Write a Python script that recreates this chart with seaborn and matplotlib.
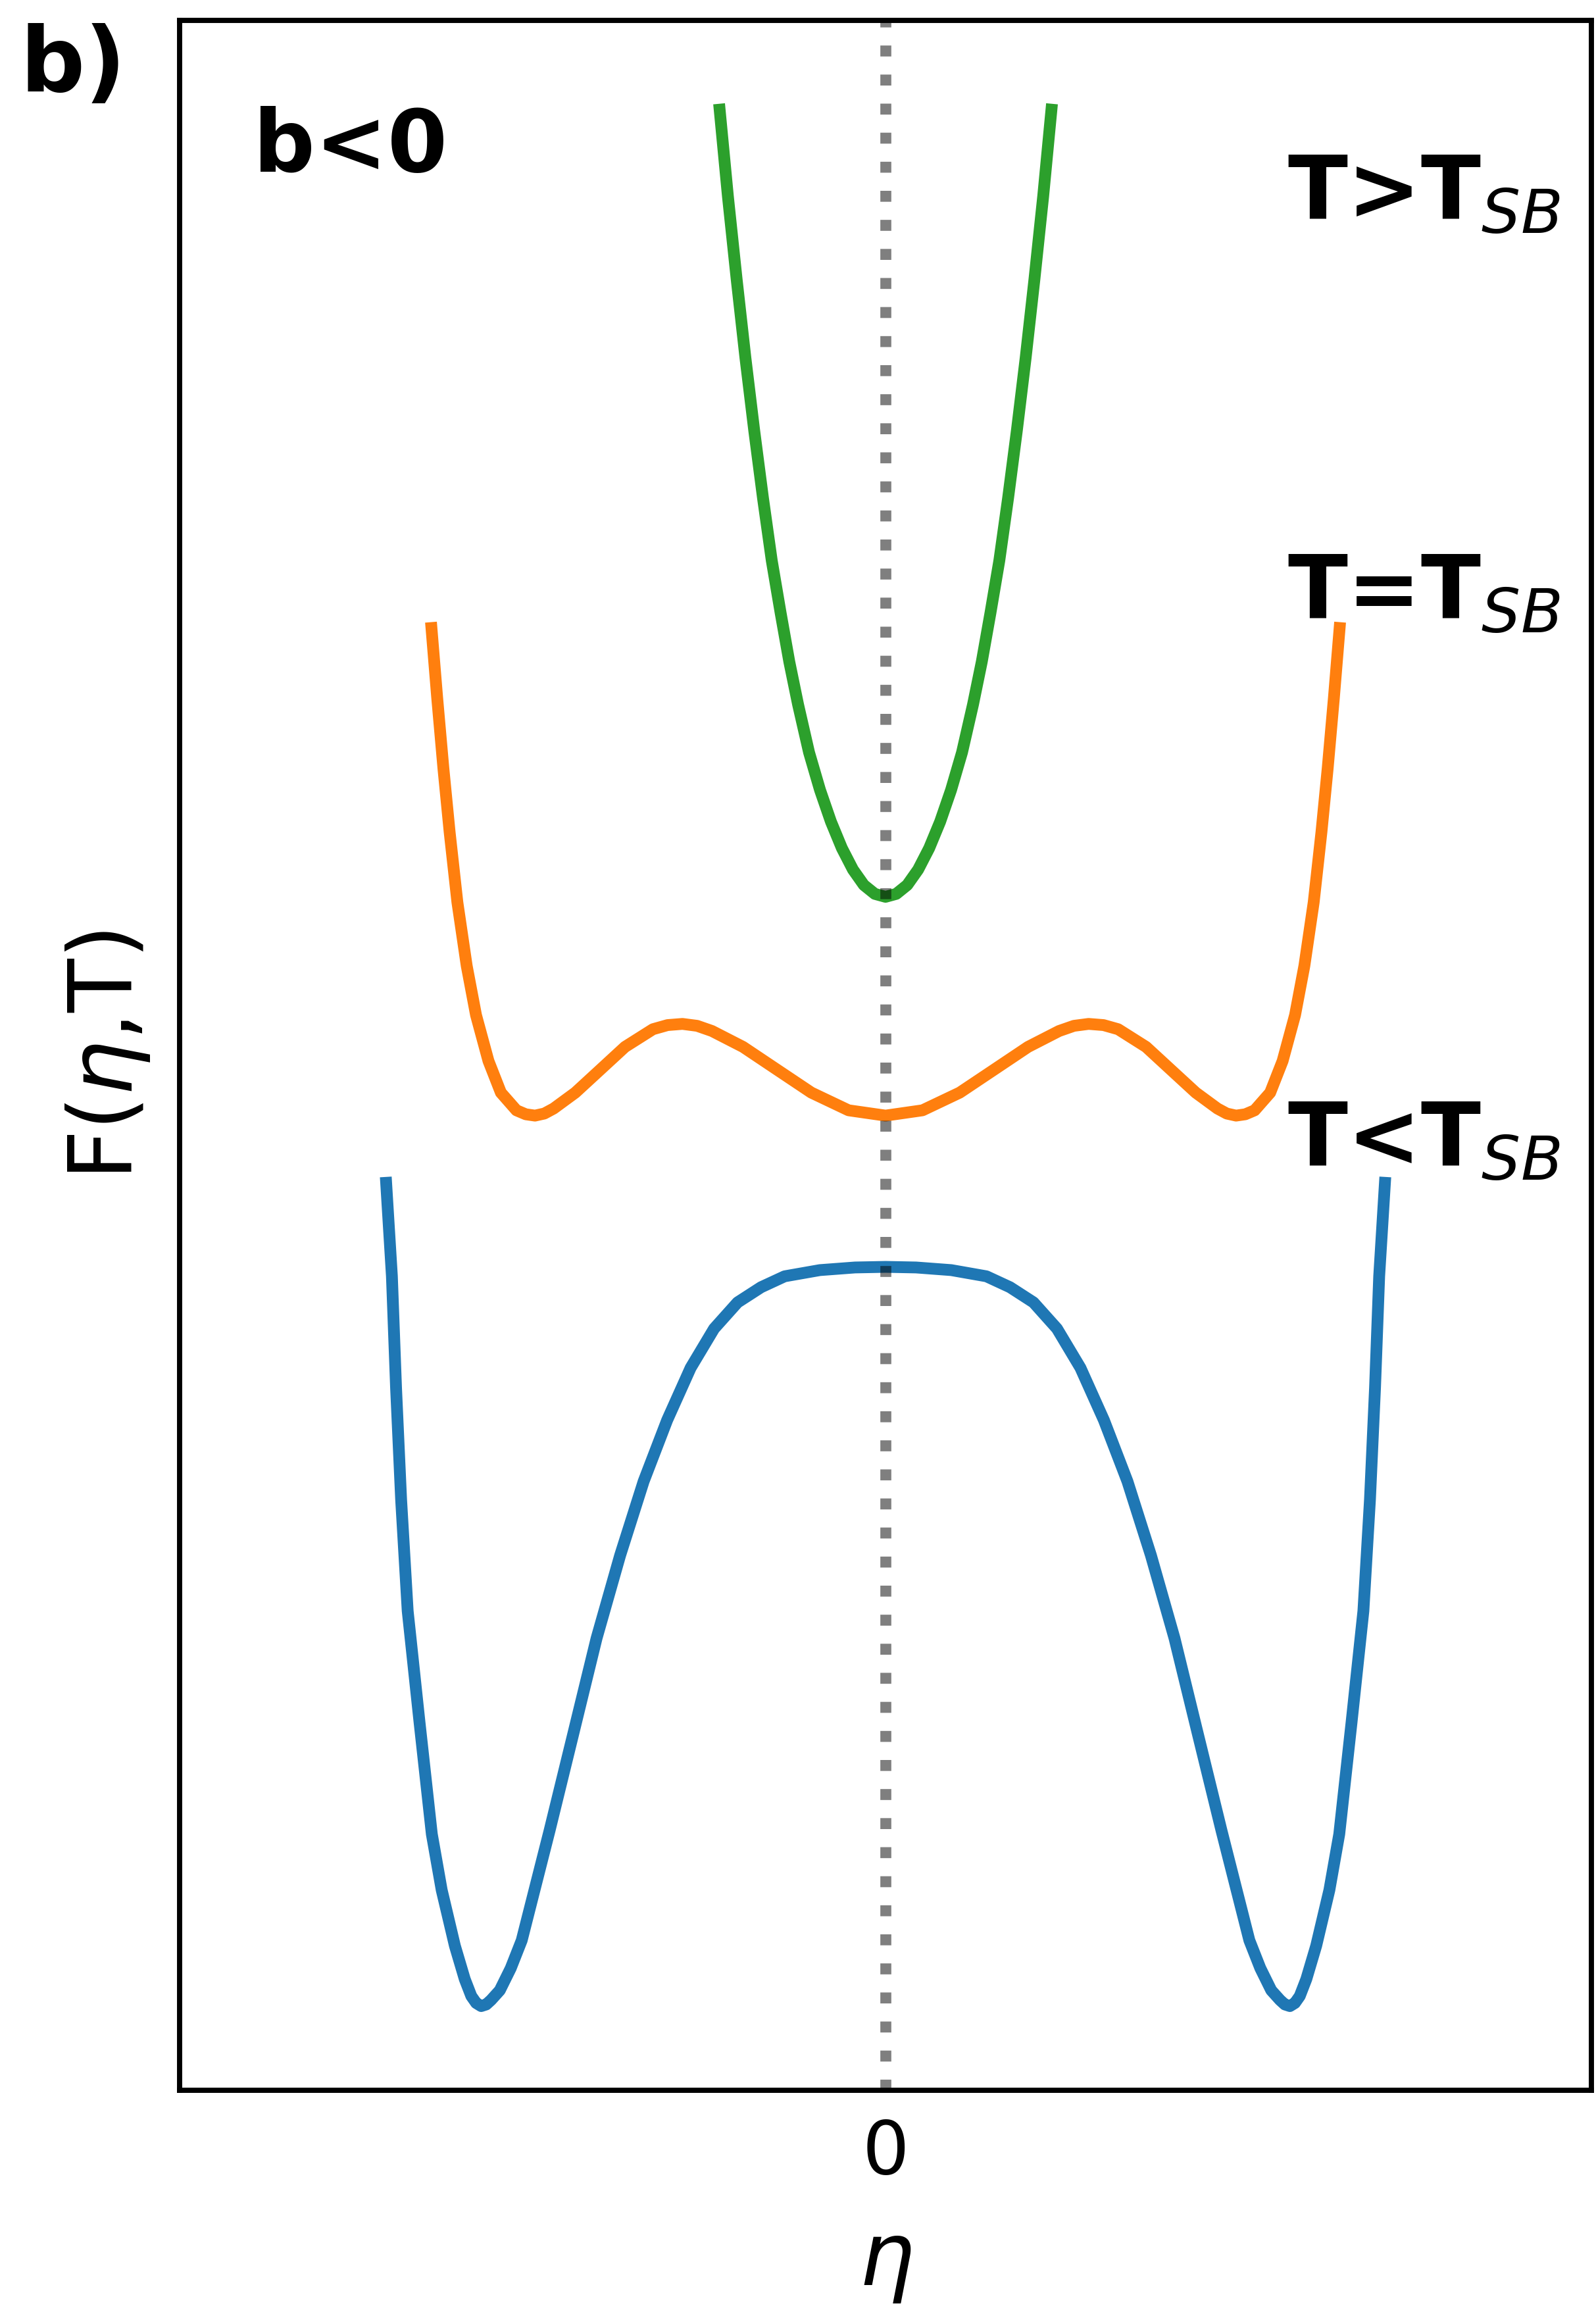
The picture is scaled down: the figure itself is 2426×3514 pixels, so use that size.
import pandas as pd
import seaborn as sns
import matplotlib.pyplot as plt

# Кривые свободной энергии F(eta, T)
blue_x = [-0.9974, -0.9852, -0.9769, -0.9668, -0.9537, -0.930, -0.9055, -0.8858, -0.8595,
          -0.8398, -0.8267, -0.817, -0.807, -0.797, -0.7873, -0.7698, -0.748, -0.7261,
          -0.6704, -0.6235, -0.5767, -0.5297, -0.4828, -0.4359, -0.389, -0.3422, -0.2953,
          -0.2484, -0.2014, -0.1312, -0.0608, 0.0,
          0.0608, 0.1312, 0.2014, 0.2484, 0.2953, 0.3422, 0.389, 0.4359, 0.4828, 0.5297,
          0.5767, 0.6235, 0.6704, 0.7261, 0.748, 0.7698, 0.7873, 0.797, 0.807, 0.817,
          0.8267, 0.8398, 0.8595, 0.8858, 0.9055, 0.930, 0.9537, 0.9668, 0.9769, 0.9852,
          0.9974]
blue_y = [6.195, 5.522, 4.764, 4.007, 3.251, 2.494, 1.737, 1.358, 0.980,
          0.754, 0.639, 0.592, 0.571, 0.582, 0.612, 0.678, 0.828, 1.017,
          1.763, 2.414, 3.066, 3.628, 4.130, 4.545, 4.900, 5.166, 5.344,
          5.447, 5.521, 5.563, 5.581, 5.585,
          5.581, 5.563, 5.521, 5.447, 5.344, 5.166, 4.900, 4.545, 4.130, 3.628,
          3.066, 2.414, 1.763, 1.017, 0.828, 0.678, 0.612, 0.582, 0.571, 0.592,
          0.639, 0.754, 0.980, 1.358, 1.737, 2.494, 3.251, 4.007, 4.764, 5.522,
          6.195]

orange_x = [-0.9072, -0.8948, -0.8824, -0.870, -0.8545, -0.8359, -0.8173, -0.7925, -0.7677,
            -0.7367, -0.718, -0.6996, -0.681, -0.6624, -0.6191, -0.5695, -0.52, -0.4642,
            -0.435, -0.4053, -0.376, -0.3464, -0.2844, -0.2163, -0.1481, -0.0738, 0.0,
            0.0738, 0.1481, 0.2163, 0.2844, 0.3464, 0.376, 0.4053, 0.435, 0.4642, 0.52,
            0.5695, 0.6191, 0.6624, 0.681, 0.6996, 0.718, 0.7367, 0.7677, 0.7925, 0.8173,
            0.8359, 0.8545, 0.870, 0.8824, 0.8948, 0.9072]
orange_y = [9.958, 9.444, 8.966, 8.535, 8.058, 7.627, 7.293, 6.982, 6.767,
            6.647, 6.620, 6.611, 6.625, 6.659, 6.767, 6.922, 7.077, 7.197,
            7.225, 7.233, 7.220, 7.185, 7.077, 6.922, 6.767, 6.647, 6.611,
            6.647, 6.767, 6.922, 7.077, 7.185, 7.220, 7.233, 7.225, 7.197, 7.077,
            6.922, 6.767, 6.659, 6.625, 6.611, 6.620, 6.647, 6.767, 6.982, 7.293,
            7.627, 8.058, 8.535, 8.966, 9.444, 9.958]

green_x = [-0.3322, -0.3146, -0.2971, -0.2797, -0.2621, -0.2446, -0.2271, -0.2095, -0.1921,
           -0.1746, -0.1527, -0.1308, -0.109, -0.0871, -0.0651, -0.0433, -0.0214, 0.0,
           0.0214, 0.0433, 0.0651, 0.0871, 0.109, 0.1308, 0.1527, 0.1746, 0.1921, 0.2095,
           0.2271, 0.2446, 0.2621, 0.2797, 0.2971, 0.3146, 0.3322]
green_y = [13.474, 12.846, 12.282, 11.752, 11.258, 10.800, 10.376, 10.023, 9.690,
           9.400, 9.075, 8.820, 8.605, 8.425, 8.280, 8.175, 8.115, 8.095,
           8.115, 8.175, 8.280, 8.425, 8.605, 8.820, 9.075, 9.400, 9.690, 10.023,
           10.376, 10.800, 11.258, 11.752, 12.282, 12.846, 13.474]

labels = ['T<T$_{SB}$', 'T=T$_{SB}$', 'T>T$_{SB}$']
label_y = [0.4466, 0.711, 0.904]
colors = ['#1f77b4', '#ff7f0e', '#2ca02c']

sns.set_style('white')
plt.rcParams['font.family'] = ['DejaVu Sans']
plt.rcParams['mathtext.fontset'] = 'dejavusans'
plt.rcParams['text.color'] = 'black'
plt.rcParams['axes.labelcolor'] = 'black'
plt.rcParams['xtick.color'] = 'black'

fig = plt.figure(figsize=(2426 / 300, 3514 / 300), dpi=300)
ax = fig.add_axes([0.1125, 0.0959, 0.8847, 0.8953])

curves = [(blue_x, blue_y), (orange_x, orange_y), (green_x, green_y)]
for (xs, ys), c in zip(curves, colors):
    df = pd.DataFrame({'eta': xs, 'F': ys})
    sns.lineplot(data=df, x='eta', y='F', color=c, sort=False, estimator=None, ax=ax)
    # толщину задаём прямо у линии, иначе seaborn её перебивает
    ax.lines[-1].set_linewidth(4.3)
    ax.lines[-1].set_solid_capstyle('butt')
    ax.lines[-1].set_solid_joinstyle('round')

ax.axvline(0, color='k', ls=':', lw=4, alpha=0.5)

ax.set_xlim(-1.409, 1.409)
ax.set_ylim(0, 14.04)
ax.set_xticks([0])
ax.set_xticklabels(['0'])
ax.set_yticks([])
ax.tick_params(axis='x', direction='in', length=9, width=2, pad=10, labelsize=27)
for sp in ax.spines.values():
    sp.set_color('k')
    sp.set_linewidth(1.9)

ax.set_xlabel(r'$\eta$', fontsize=32, labelpad=11)
ax.set_ylabel(r'F($\eta$,T)', fontsize=32, labelpad=10)

for lab, y in zip(labels, label_y):
    ax.text(0.7847, y, lab, transform=ax.transAxes, fontsize=32, weight='bold',
            ha='left', va='baseline')
ax.text(0.0524, 0.927, 'b<0', transform=ax.transAxes, fontsize=31.5, weight='bold',
        ha='left', va='baseline')
fig.text(31 / 2426, 1 - 35 / 3514, 'b)', fontsize=33, weight='bold', ha='left', va='top')

plt.savefig('out.png', dpi=300)
